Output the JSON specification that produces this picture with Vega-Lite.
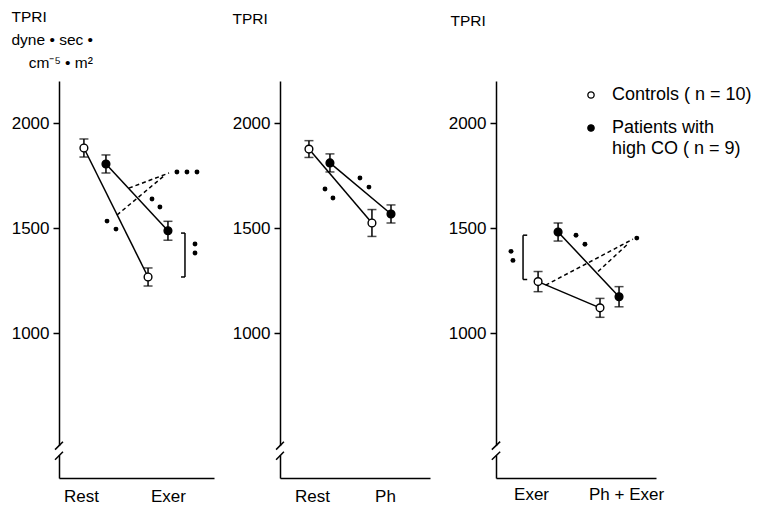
{
  "$schema": "https://vega.github.io/schema/vega-lite/v6.json",
  "background": "white",
  "padding": {"left": 11, "top": 9, "right": 2, "bottom": 0},
  "bounds": "flush",
  "spacing": 66,
  "resolve": {"scale": {"fill": "independent"}, "legend": {"fill": "independent"}},
  "config": {
    "font": "Liberation Sans, Arial, sans-serif",
    "view": {"stroke": null},
    "style": {"guide-label": {"lineHeight": 21}},
    "axis": {"grid": false, "domainColor": "black", "domainWidth": 1.5, "tickColor": "black", "labelColor": "black", "titleColor": "black", "titleFontWeight": "normal", "labelFontSize": 17}
  },
  "datasets": {
    "pts": [
      {"panel": 1, "group": "Controls", "x": 16.4, "y": 1881, "err": 43},
      {"panel": 1, "group": "Patients", "x": 30.9, "y": 1805, "err": 43},
      {"panel": 1, "group": "Controls", "x": 58.6, "y": 1267, "err": 43},
      {"panel": 1, "group": "Patients", "x": 71.7, "y": 1487, "err": 45},
      {"panel": 2, "group": "Controls", "x": 19.3, "y": 1876, "err": 40},
      {"panel": 2, "group": "Patients", "x": 33.3, "y": 1810, "err": 43},
      {"panel": 2, "group": "Controls", "x": 61.3, "y": 1524, "err": 64},
      {"panel": 2, "group": "Patients", "x": 74.0, "y": 1567, "err": 43},
      {"panel": 3, "group": "Controls", "x": 26.3, "y": 1245, "err": 48},
      {"panel": 3, "group": "Patients", "x": 38.8, "y": 1481, "err": 43},
      {"panel": 3, "group": "Controls", "x": 65.0, "y": 1120, "err": 45},
      {"panel": 3, "group": "Patients", "x": 76.9, "y": 1173, "err": 48}
    ],
    "dash": [
      {"panel": 1, "id": "a", "x": 46.0, "y": 1690},
      {"panel": 1, "id": "a", "x": 72.4, "y": 1762},
      {"panel": 1, "id": "b", "x": 38.2, "y": 1562},
      {"panel": 1, "id": "b", "x": 69.0, "y": 1748},
      {"panel": 3, "id": "a", "x": 31.0, "y": 1228},
      {"panel": 3, "id": "a", "x": 85.6, "y": 1447},
      {"panel": 3, "id": "b", "x": 63.8, "y": 1293},
      {"panel": 3, "id": "b", "x": 83.0, "y": 1428}
    ],
    "sig": [
      {"panel": 1, "x": 77.6, "y": 1767},
      {"panel": 1, "x": 84.2, "y": 1767},
      {"panel": 1, "x": 90.8, "y": 1767},
      {"panel": 1, "x": 61.2, "y": 1638},
      {"panel": 1, "x": 66.4, "y": 1600},
      {"panel": 1, "x": 31.6, "y": 1533},
      {"panel": 1, "x": 37.5, "y": 1495},
      {"panel": 1, "x": 89.5, "y": 1424},
      {"panel": 1, "x": 89.5, "y": 1381},
      {"panel": 2, "x": 30.0, "y": 1686},
      {"panel": 2, "x": 35.3, "y": 1643},
      {"panel": 2, "x": 53.3, "y": 1738},
      {"panel": 2, "x": 59.3, "y": 1695},
      {"panel": 3, "x": 9.4, "y": 1389},
      {"panel": 3, "x": 10.6, "y": 1346},
      {"panel": 3, "x": 50.0, "y": 1466},
      {"panel": 3, "x": 55.6, "y": 1423},
      {"panel": 3, "x": 88.0, "y": 1452}
    ],
    "brk": [
      {"panel": 1, "x": 82.9, "x2": 82.9, "y": 1476, "y2": 1267},
      {"panel": 1, "x": 80.3, "x2": 82.9, "y": 1476, "y2": 1476},
      {"panel": 1, "x": 80.3, "x2": 82.9, "y": 1267, "y2": 1267},
      {"panel": 3, "x": 16.9, "x2": 16.9, "y": 1466, "y2": 1255},
      {"panel": 3, "x": 16.9, "x2": 19.5, "y": 1466, "y2": 1466},
      {"panel": 3, "x": 16.9, "x2": 19.5, "y": 1255, "y2": 1255}
    ],
    "gap": [
      {"x": 0, "x2": 0, "y": 418, "y2": 462}
    ],
    "slash": [
      {"x": -2.6, "x2": 2.6, "y": 445, "y2": 483},
      {"x": -2.6, "x2": 2.6, "y": 397, "y2": 435}
    ]
  },
  "hconcat": [
    {
      "width": 155,
      "height": 397,
      "layer": [
        {
          "data": {"name": "pts"},
          "transform": [{"filter": "datum.panel == 1"}],
          "mark": {"type": "line", "color": "black", "strokeWidth": 1.5},
          "encoding": {
            "x": {"field": "x", "type": "quantitative", "title": null, "scale": {"domain": [0, 102], "nice": false, "zero": false},
              "axis": {"values": [14.5, 71.7], "labelExpr": "datum.value < 50 ? 'Rest' : 'Exer'", "ticks": false, "labelPadding": 10, "labelOverlap": false, "labelFlush": false}},
            "y": {"field": "y", "type": "quantitative", "title": ["TPRI", "dyne • sec •", "\u200b\u00a0\u00a0\u00a0\u00a0cm⁻⁵ • m²"], "scale": {"domain": [310, 2200], "nice": false, "zero": false},
              "axis": {"values": [1000, 1500, 2000], "format": "d", "tickSize": 6, "tickWidth": 1.5, "labelPadding": 4,
                "titleAngle": 0, "titleAlign": "left", "titleBaseline": "top", "titleX": -48, "titleY": -72, "titleFontSize": 15.5, "titleLineHeight": 23}},
            "detail": {"field": "group"}
          }
        },
        {
          "data": {"name": "dash"},
          "transform": [{"filter": "datum.panel == 1"}],
          "mark": {"type": "line", "color": "black", "strokeWidth": 1.5, "strokeDash": [4, 3]},
          "encoding": {"x": {"field": "x", "type": "quantitative", "title": null}, "y": {"field": "y", "type": "quantitative", "title": ["TPRI", "dyne • sec •", "\u200b\u00a0\u00a0\u00a0\u00a0cm⁻⁵ • m²"]}, "detail": {"field": "id"}}
        },
        {
          "data": {"name": "pts"},
          "transform": [{"filter": "datum.panel == 1"}],
          "mark": {"type": "errorbar", "color": "black", "thickness": 1.5, "ticks": {"size": 9}},
          "encoding": {"x": {"field": "x", "type": "quantitative", "title": null}, "y": {"field": "y", "type": "quantitative", "title": ["TPRI", "dyne • sec •", "\u200b\u00a0\u00a0\u00a0\u00a0cm⁻⁵ • m²"]}, "yError": {"field": "err"}}
        },
        {
          "data": {"name": "pts"},
          "transform": [{"filter": "datum.panel == 1"}],
          "mark": {"type": "point", "filled": true, "stroke": "black", "strokeWidth": 1.4, "size": 60, "opacity": 1},
          "encoding": {"x": {"field": "x", "type": "quantitative", "title": null}, "y": {"field": "y", "type": "quantitative", "title": ["TPRI", "dyne • sec •", "\u200b\u00a0\u00a0\u00a0\u00a0cm⁻⁵ • m²"]},
            "fill": {"field": "group", "type": "nominal", "scale": {"domain": ["Controls", "Patients"], "range": ["white", "black"]}, "legend": null}}
        },
        {
          "data": {"name": "sig"},
          "transform": [{"filter": "datum.panel == 1"}],
          "mark": {"type": "point", "filled": true, "color": "black", "size": 24, "opacity": 1},
          "encoding": {"x": {"field": "x", "type": "quantitative", "title": null}, "y": {"field": "y", "type": "quantitative", "title": ["TPRI", "dyne • sec •", "\u200b\u00a0\u00a0\u00a0\u00a0cm⁻⁵ • m²"]}}
        },
        {
          "data": {"name": "brk"},
          "transform": [{"filter": "datum.panel == 1"}],
          "mark": {"type": "rule", "color": "black", "strokeWidth": 1.5},
          "encoding": {"x": {"field": "x", "type": "quantitative", "title": null}, "x2": {"field": "x2"}, "y": {"field": "y", "type": "quantitative", "title": ["TPRI", "dyne • sec •", "\u200b\u00a0\u00a0\u00a0\u00a0cm⁻⁵ • m²"]}, "y2": {"field": "y2"}}
        },
        {
          "data": {"name": "gap"},
          "mark": {"type": "rule", "color": "white", "strokeWidth": 4},
          "encoding": {"x": {"field": "x", "type": "quantitative", "title": null}, "x2": {"field": "x2"}, "y": {"field": "y", "type": "quantitative", "title": ["TPRI", "dyne • sec •", "\u200b\u00a0\u00a0\u00a0\u00a0cm⁻⁵ • m²"]}, "y2": {"field": "y2"}}
        },
        {
          "data": {"name": "slash"},
          "mark": {"type": "rule", "color": "black", "strokeWidth": 1.5},
          "encoding": {"x": {"field": "x", "type": "quantitative", "title": null}, "x2": {"field": "x2"}, "y": {"field": "y", "type": "quantitative", "title": ["TPRI", "dyne • sec •", "\u200b\u00a0\u00a0\u00a0\u00a0cm⁻⁵ • m²"]}, "y2": {"field": "y2"}}
        }
      ]
    },
    {
      "width": 150,
      "height": 397,
      "layer": [
        {
          "data": {"name": "pts"},
          "transform": [{"filter": "datum.panel == 2"}],
          "mark": {"type": "line", "color": "black", "strokeWidth": 1.5},
          "encoding": {
            "x": {"field": "x", "type": "quantitative", "title": null, "scale": {"domain": [0, 100], "nice": false, "zero": false},
              "axis": {"values": [21.3, 70], "labelExpr": "datum.value < 50 ? 'Rest' : 'Ph'", "ticks": false, "labelPadding": 10, "labelOverlap": false, "labelFlush": false}},
            "y": {"field": "y", "type": "quantitative", "title": "TPRI", "scale": {"domain": [310, 2200], "nice": false, "zero": false},
              "axis": {"values": [1000, 1500, 2000], "format": "d", "tickSize": 6, "tickWidth": 1.5, "labelPadding": 4,
                "titleAngle": 0, "titleAlign": "left", "titleBaseline": "top", "titleX": -48, "titleY": -70, "titleFontSize": 15.5}},
            "detail": {"field": "group"}
          }
        },
        {
          "data": {"name": "pts"},
          "transform": [{"filter": "datum.panel == 2"}],
          "mark": {"type": "errorbar", "color": "black", "thickness": 1.5, "ticks": {"size": 9}},
          "encoding": {"x": {"field": "x", "type": "quantitative", "title": null}, "y": {"field": "y", "type": "quantitative", "title": "TPRI"}, "yError": {"field": "err"}}
        },
        {
          "data": {"name": "pts"},
          "transform": [{"filter": "datum.panel == 2"}],
          "mark": {"type": "point", "filled": true, "stroke": "black", "strokeWidth": 1.4, "size": 60, "opacity": 1},
          "encoding": {"x": {"field": "x", "type": "quantitative", "title": null}, "y": {"field": "y", "type": "quantitative", "title": "TPRI"},
            "fill": {"field": "group", "type": "nominal", "scale": {"domain": ["Controls", "Patients"], "range": ["white", "black"]}, "legend": null}}
        },
        {
          "data": {"name": "sig"},
          "transform": [{"filter": "datum.panel == 2"}],
          "mark": {"type": "point", "filled": true, "color": "black", "size": 24, "opacity": 1},
          "encoding": {"x": {"field": "x", "type": "quantitative", "title": null}, "y": {"field": "y", "type": "quantitative", "title": "TPRI"}}
        },
        {
          "data": {"name": "gap"},
          "mark": {"type": "rule", "color": "white", "strokeWidth": 4},
          "encoding": {"x": {"field": "x", "type": "quantitative", "title": null}, "x2": {"field": "x2"}, "y": {"field": "y", "type": "quantitative", "title": "TPRI"}, "y2": {"field": "y2"}}
        },
        {
          "data": {"name": "slash"},
          "mark": {"type": "rule", "color": "black", "strokeWidth": 1.5},
          "encoding": {"x": {"field": "x", "type": "quantitative", "title": null}, "x2": {"field": "x2"}, "y": {"field": "y", "type": "quantitative", "title": "TPRI"}, "y2": {"field": "y2"}}
        }
      ]
    },
    {
      "width": 160,
      "height": 397,
      "layer": [
        {
          "data": {"name": "pts"},
          "transform": [{"filter": "datum.panel == 3"}],
          "mark": {"type": "line", "color": "black", "strokeWidth": 1.5},
          "encoding": {
            "x": {"field": "x", "type": "quantitative", "title": null, "scale": {"domain": [0, 100], "nice": false, "zero": false},
              "axis": {"values": [21.9, 81.3], "labelExpr": "datum.value < 50 ? 'Exer' : 'Ph + Exer'", "ticks": false, "labelPadding": 8, "labelOverlap": false, "labelFlush": false}},
            "y": {"field": "y", "type": "quantitative", "title": "TPRI", "scale": {"domain": [310, 2200], "nice": false, "zero": false},
              "axis": {"values": [1000, 1500, 2000], "format": "d", "tickSize": 6, "tickWidth": 1.5, "labelPadding": 4,
                "titleAngle": 0, "titleAlign": "left", "titleBaseline": "top", "titleX": -46, "titleY": -68, "titleFontSize": 15.5}},
            "detail": {"field": "group"}
          }
        },
        {
          "data": {"name": "dash"},
          "transform": [{"filter": "datum.panel == 3"}],
          "mark": {"type": "line", "color": "black", "strokeWidth": 1.5, "strokeDash": [4, 3]},
          "encoding": {"x": {"field": "x", "type": "quantitative", "title": null}, "y": {"field": "y", "type": "quantitative", "title": "TPRI"}, "detail": {"field": "id"}}
        },
        {
          "data": {"name": "pts"},
          "transform": [{"filter": "datum.panel == 3"}],
          "mark": {"type": "errorbar", "color": "black", "thickness": 1.5, "ticks": {"size": 9}},
          "encoding": {"x": {"field": "x", "type": "quantitative", "title": null}, "y": {"field": "y", "type": "quantitative", "title": "TPRI"}, "yError": {"field": "err"}}
        },
        {
          "data": {"name": "pts"},
          "transform": [{"filter": "datum.panel == 3"}],
          "mark": {"type": "point", "filled": true, "stroke": "black", "strokeWidth": 1.4, "size": 60, "opacity": 1},
          "encoding": {"x": {"field": "x", "type": "quantitative", "title": null}, "y": {"field": "y", "type": "quantitative", "title": "TPRI"},
            "fill": {"field": "group", "type": "nominal", "scale": {"domain": ["Controls", "Patients"], "range": ["white", "black"]},
              "legend": {"orient": "none", "legendX": 86, "legendY": 5, "title": null, "labelExpr": "datum.label == 'Patients' ? ['Patients with', 'high CO ( n = 9)'] : 'Controls ( n = 10)'",
                "labelFontSize": 18, "labelColor": "black", "labelLimit": 0, "symbolSize": 40, "symbolStrokeWidth": 1.3, "symbolStrokeColor": "black", "rowPadding": 15, "labelOffset": 12, "symbolType": "circle"}}}
        },
        {
          "data": {"name": "sig"},
          "transform": [{"filter": "datum.panel == 3"}],
          "mark": {"type": "point", "filled": true, "color": "black", "size": 24, "opacity": 1},
          "encoding": {"x": {"field": "x", "type": "quantitative", "title": null}, "y": {"field": "y", "type": "quantitative", "title": "TPRI"}}
        },
        {
          "data": {"name": "brk"},
          "transform": [{"filter": "datum.panel == 3"}],
          "mark": {"type": "rule", "color": "black", "strokeWidth": 1.5},
          "encoding": {"x": {"field": "x", "type": "quantitative", "title": null}, "x2": {"field": "x2"}, "y": {"field": "y", "type": "quantitative", "title": "TPRI"}, "y2": {"field": "y2"}}
        },
        {
          "data": {"name": "gap"},
          "mark": {"type": "rule", "color": "white", "strokeWidth": 4},
          "encoding": {"x": {"field": "x", "type": "quantitative", "title": null}, "x2": {"field": "x2"}, "y": {"field": "y", "type": "quantitative", "title": "TPRI"}, "y2": {"field": "y2"}}
        },
        {
          "data": {"name": "slash"},
          "mark": {"type": "rule", "color": "black", "strokeWidth": 1.5},
          "encoding": {"x": {"field": "x", "type": "quantitative", "title": null}, "x2": {"field": "x2"}, "y": {"field": "y", "type": "quantitative", "title": "TPRI"}, "y2": {"field": "y2"}}
        }
      ]
    }
  ]
}
